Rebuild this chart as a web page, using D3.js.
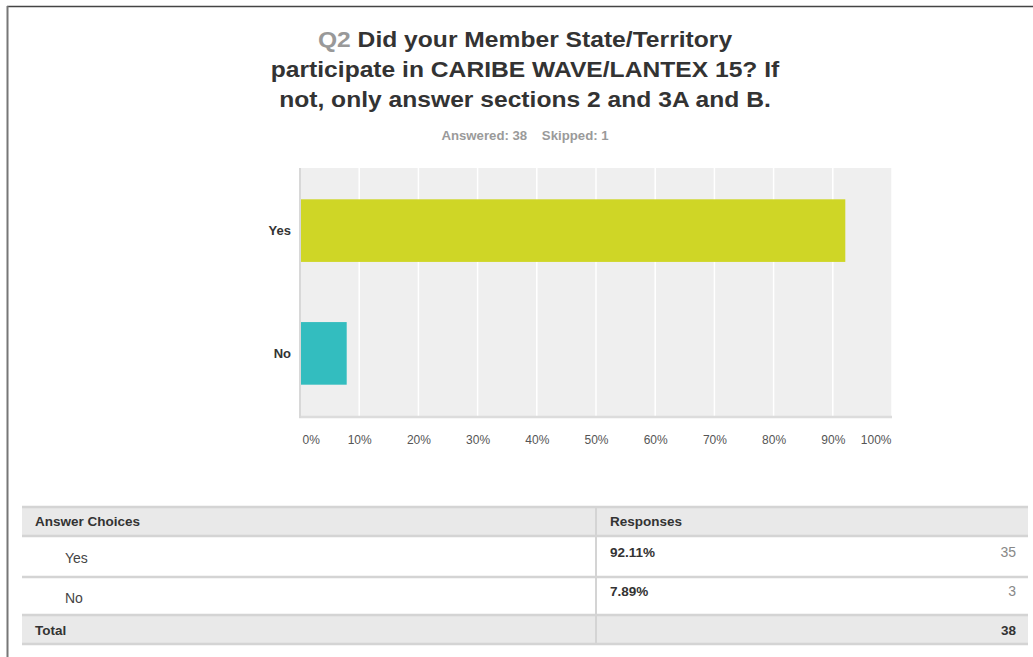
<!DOCTYPE html>
<html><head><meta charset="utf-8">
<script src="https://cdn.jsdelivr.net/npm/d3@7"></script>
<style>
html,body{margin:0;padding:0;background:#fff;}
svg{display:block;font-family:"Liberation Sans",Arial,Helvetica,sans-serif;}
</style></head>
<body><svg id="c" width="1033" height="657"></svg>
<script>
const categories = ["Yes", "No"];
const percents = [92.11, 7.89];
const counts = [35, 3];
const barColors = ["#cfd626", "#33bdbf"];
const xTicks = [0, 10, 20, 30, 40, 50, 60, 70, 80, 90, 100];
const titleLines = ["Did your Member State/Territory", "participate in CARIBE WAVE/LANTEX 15? If", "not, only answer sections 2 and 3A and B."];
const questionNo = "Q2";
const answered = 38, skipped = 1;
const total = 38;

(function(){
const svg = d3.select("#c");

// page border
svg.append("line").attr("x1",7).attr("x2",1033).attr("y1",6.5).attr("y2",6.5).attr("stroke","#444").attr("stroke-width",1.6);
svg.append("line").attr("x1",7.5).attr("x2",7.5).attr("y1",6).attr("y2",657).attr("stroke","#777").attr("stroke-width",2);

// title
const cx = 525;
const tBase = [47, 77, 107];
const tg = svg.append("g").attr("transform",`translate(${cx},0) scale(1.12,1)`);
titleLines.forEach((t,i)=>{
  const tx = tg.append("text").attr("x",0).attr("y",tBase[i]).attr("text-anchor","middle")
    .attr("font-size",22).attr("font-weight","bold").attr("fill","#333");
  if(i===0){ tx.append("tspan").attr("fill","#999").text(questionNo+" "); }
  tx.append("tspan").text(t);
});
const sg = svg.append("g").attr("transform",`translate(${cx},0) scale(1.1,1)`);
sg.append("text").attr("x",0).attr("y",140).attr("text-anchor","middle").attr("font-size",12).attr("font-weight","bold")
  .attr("fill","#9a9a9a").attr("xml:space","preserve").text(`Answered: ${answered}    Skipped: ${skipped}`);

// chart
const pL=300, pR=892, pT=168, pB=416;
const x = d3.scaleLinear().domain([0,100]).range([pL,pR]);
const y = d3.scaleBand().domain(categories).range([pT,pB]).paddingInner(0.49).paddingOuter(0.255);

svg.append("rect").attr("x",pL).attr("y",pT).attr("width",pR-pL).attr("height",pB-pT).attr("fill","#efefef");
svg.append("g").selectAll("line").data(xTicks.slice(1)).join("line")
  .attr("x1",d=>x(d)).attr("x2",d=>x(d)).attr("y1",pT).attr("y2",pB).attr("stroke","#fff").attr("stroke-width",1.5);

svg.append("g").selectAll("rect").data(categories).join("rect")
  .attr("x",x(0)).attr("y",d=>y(d)).attr("width",(d,i)=>x(percents[i])-x(0)).attr("height",y.bandwidth())
  .attr("fill",(d,i)=>barColors[i]);

// axes lines
svg.append("line").attr("x1",pL-1).attr("x2",pR).attr("y1",pB+1).attr("y2",pB+1).attr("stroke","#dcdcdc").attr("stroke-width",2.5);
svg.append("line").attr("x1",pL).attr("x2",pL).attr("y1",pT).attr("y2",pB+2).attr("stroke","#d8d8d8").attr("stroke-width",2);

// x axis labels
const xAxis = d3.axisBottom(x).tickValues(xTicks).tickSize(0).tickPadding(0).tickFormat(d=>d+"%");
const gx = svg.append("g").attr("transform",`translate(0,${pB+28})`).call(xAxis);
gx.select(".domain").remove();
gx.selectAll("text").attr("font-size",12).attr("fill","#555").attr("font-family","Liberation Sans,Arial,sans-serif").attr("dy",0)
  .attr("text-anchor",d=>d===0?"start":(d===100?"end":"middle"))
  .attr("x",d=>d===0?2:(d===100?-1:0));

// y axis labels
const yAxis = d3.axisLeft(y).tickSize(0).tickPadding(9);
const gy = svg.append("g").attr("transform",`translate(${pL},0)`).call(yAxis);
gy.select(".domain").remove();
gy.selectAll("text").attr("font-size",13).attr("font-weight","bold").attr("fill","#333").attr("font-family","Liberation Sans,Arial,sans-serif");

// table
const tL=22, tR=1028, colX=596;
const rowEdges=[507,536,577,615,644];
const lineC="#d4d4d4";
svg.append("rect").attr("x",tL).attr("y",rowEdges[0]).attr("width",tR-tL).attr("height",rowEdges[1]-rowEdges[0]).attr("fill","#e9e9e9");
svg.append("rect").attr("x",tL).attr("y",rowEdges[3]).attr("width",tR-tL).attr("height",rowEdges[4]-rowEdges[3]).attr("fill","#e9e9e9");
rowEdges.forEach(yy=>svg.append("line").attr("x1",tL).attr("x2",tR).attr("y1",yy).attr("y2",yy).attr("stroke",lineC).attr("stroke-width",2.5));
svg.append("line").attr("x1",colX).attr("x2",colX).attr("y1",rowEdges[0]).attr("y2",rowEdges[4]).attr("stroke",lineC).attr("stroke-width",2);

const tText=(xx,yy,t,o={})=>svg.append("text").attr("x",xx).attr("y",yy).attr("font-size",o.size||(o.bold?13.5:14))
  .attr("font-weight",o.bold?"bold":"normal").attr("fill",o.fill||"#333").attr("text-anchor",o.anchor||"start").text(t);

tText(35,526,"Answer Choices",{bold:true});
tText(610,526,"Responses",{bold:true});
const rowTextY=[563,603], rowValY=[557,596];
categories.forEach((c,i)=>{
  tText(65,rowTextY[i],c,{fill:"#444"});
  tText(610,rowValY[i],percents[i].toFixed(2)+"%",{bold:true});
  tText(1016,rowValY[i],counts[i],{anchor:"end",fill:"#888"});
});
tText(35,635,"Total",{bold:true});
tText(1016,635,total,{bold:true,anchor:"end"});
})();
</script></body></html>
